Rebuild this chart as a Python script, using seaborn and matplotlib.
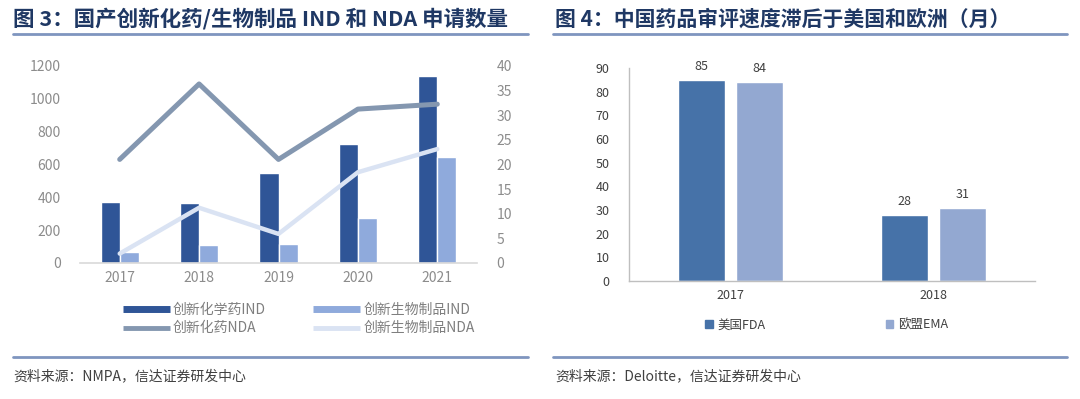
import matplotlib
matplotlib.use("Agg")
import matplotlib.pyplot as plt
import seaborn as sns
import pandas as pd
from matplotlib.lines import Line2D
from matplotlib.patches import Patch

sns.set_theme(style="white")
plt.rcParams['font.family'] = ['Noto Sans CJK SC', 'DejaVu Sans']

# ---------------- data ----------------
years = ["2017", "2018", "2019", "2020", "2021"]
chem_ind = [373, 367, 549, 722, 1139]
bio_ind = [69, 108, 116, 274, 643]
chem_nda = [21, 36.3, 21, 31.2, 32.2]
bio_nda = [1.9, 11.2, 5.9, 18.4, 23.1]

years2 = ["2017", "2018"]
fda = [85, 28]
ema = [84, 31]

title_left = "图 3：国产创新化药/生物制品 IND 和 NDA 申请数量"
title_right = "图 4：中国药品审评速度滞后于美国和欧洲（月）"
src_left = "资料来源：NMPA，信达证券研发中心"
src_right = "资料来源：Deloitte，信达证券研发中心"
lab_left = ["创新化学药IND", "创新生物制品IND", "创新化药NDA", "创新生物制品NDA"]
lab_right = ["美国FDA", "欧盟EMA"]

W, H = 1080, 399
fig = plt.figure(figsize=(W / 100, H / 100), dpi=100)
fig.patch.set_facecolor("white")


def rect(x0, y0, x1, y1):
    return [x0 / W, 1 - y1 / H, (x1 - x0) / W, (y1 - y0) / H]


def fx(x):
    return x / W


def fy(y):
    return 1 - y / H


navy = "#1f3864"
rule = "#7f95bf"

# titles & rules
fig.text(fx(13), fy(19), title_left, fontsize=15.5, fontweight="bold", color=navy, va="center", ha="left")
fig.text(fx(555), fy(19), title_right, fontsize=15, fontweight="bold", color=navy, va="center", ha="left")
for x0, x1 in [(13, 528), (553, 1067)]:
    fig.add_artist(Line2D([fx(x0), fx(x1)], [fy(34), fy(34)], color=rule, lw=2.0))
    fig.add_artist(Line2D([fx(x0), fx(x1)], [fy(357), fy(357)], color=rule, lw=2.0))
fig.text(fx(13), fy(376), src_left, fontsize=10, style="italic", color="#404040", va="center", ha="left")
fig.text(fx(555), fy(376), src_right, fontsize=10, style="italic", color="#404040", va="center", ha="left")

# ---------------- left chart ----------------
c_dark = "#2f5597"
c_light = "#8faadc"
c_nda1 = "#8497b0"
c_nda2 = "#dae3f3"
tick_c = "#8c8c8c"

ax = fig.add_axes(rect(80, 65.7, 477, 263))
df_ind = pd.DataFrame({
    "year": years * 2,
    "value": chem_ind + bio_ind,
    "series": [lab_left[0]] * 5 + [lab_left[1]] * 5,
})
sns.barplot(data=df_ind, x="year", y="value", hue="series", order=years,
            hue_order=lab_left[:2], palette=[c_dark, c_light], width=0.48,
            gap=0, ax=ax, legend=False, saturation=1)
ax.set_ylim(0, 1200)
ax.set_yticks(range(0, 1201, 200))
ax.set_xlim(-0.5, 4.5)
ax.set_xlabel("")
ax.set_ylabel("")
for s in ["top", "right", "left"]:
    ax.spines[s].set_visible(False)
ax.spines["bottom"].set_color("#d9d9d9")
ax.spines["bottom"].set_linewidth(1.2)
ax.tick_params(axis="both", length=0, labelsize=10, colors=tick_c, pad=6)
ax.tick_params(axis="y", pad=14)

ax2 = ax.twinx()
df_nda = pd.DataFrame({
    "year": years * 2,
    "value": chem_nda + bio_nda,
    "series": [lab_left[2]] * 5 + [lab_left[3]] * 5,
})
sns.lineplot(data=df_nda[df_nda.series == lab_left[2]], x="year", y="value",
             color=c_nda1, lw=3.6, ax=ax2, legend=False, sort=False)
sns.lineplot(data=df_nda[df_nda.series == lab_left[3]], x="year", y="value",
             color=c_nda2, lw=3.2, ax=ax2, legend=False, sort=False)
ax2.set_ylim(0, 40)
ax2.set_yticks(range(0, 41, 5))
ax2.set_xlim(-0.5, 4.5)
ax2.set_xlabel("")
ax2.set_ylabel("")
for s in ["top", "right", "left", "bottom"]:
    ax2.spines[s].set_visible(False)
ax2.tick_params(axis="y", length=0, labelsize=10, colors=tick_c, pad=14)

handles = [
    Line2D([], [], color=c_dark, lw=5, solid_capstyle="butt"),
    Line2D([], [], color=c_light, lw=5, solid_capstyle="butt"),
    Line2D([], [], color=c_nda1, lw=3.5, solid_capstyle="butt"),
    Line2D([], [], color=c_nda2, lw=3.5, solid_capstyle="butt"),
]
leg = fig.legend(handles=[handles[0], handles[2], handles[1], handles[3]],
                 labels=[lab_left[0], lab_left[2], lab_left[1], lab_left[3]],
                 ncol=2, loc="center left", bbox_to_anchor=(fx(123), fy(319)),
                 frameon=False, fontsize=10, handlelength=3.4, handletextpad=0.2,
                 columnspacing=3.4, labelspacing=0.35, labelcolor="#7f7f7f",
                 borderaxespad=0, borderpad=0)

# ---------------- right chart ----------------
r_dark = "#4672a8"
r_light = "#93a8d1"
axr = fig.add_axes(rect(629, 68, 1035, 281))
df_r = pd.DataFrame({
    "year": years2 * 2,
    "value": fda + ema,
    "series": [lab_right[0]] * 2 + [lab_right[1]] * 2,
})
sns.barplot(data=df_r, x="year", y="value", hue="series", order=years2,
            hue_order=lab_right, palette=[r_dark, r_light], width=0.57,
            gap=0.2, ax=axr, legend=False, saturation=1)
axr.set_ylim(0, 90)
axr.set_yticks(range(0, 91, 10))
axr.set_xlim(-0.5, 1.5)
axr.set_xlabel("")
axr.set_ylabel("")
for s in ["top", "right"]:
    axr.spines[s].set_visible(False)
for s in ["left", "bottom"]:
    axr.spines[s].set_color("#bfbfbf")
    axr.spines[s].set_linewidth(1.0)
axr.tick_params(axis="both", length=0, labelsize=9, colors="#404040")
axr.tick_params(axis="y", pad=14)
axr.tick_params(axis="x", pad=6)
for cont in axr.containers:
    axr.bar_label(cont, fmt="%d", padding=5, fontsize=9, color="#404040")

fig.legend(handles=[Patch(color=r_dark), Patch(color=r_light)], labels=lab_right,
           ncol=2, loc="center left", bbox_to_anchor=(fx(705), fy(325)),
           frameon=False, fontsize=9, handlelength=0.6, handleheight=0.6,
           handletextpad=0.4, columnspacing=9.6, labelcolor="#404040",
           borderaxespad=0, borderpad=0)

fig.savefig("out.png", dpi=100, facecolor="white")
